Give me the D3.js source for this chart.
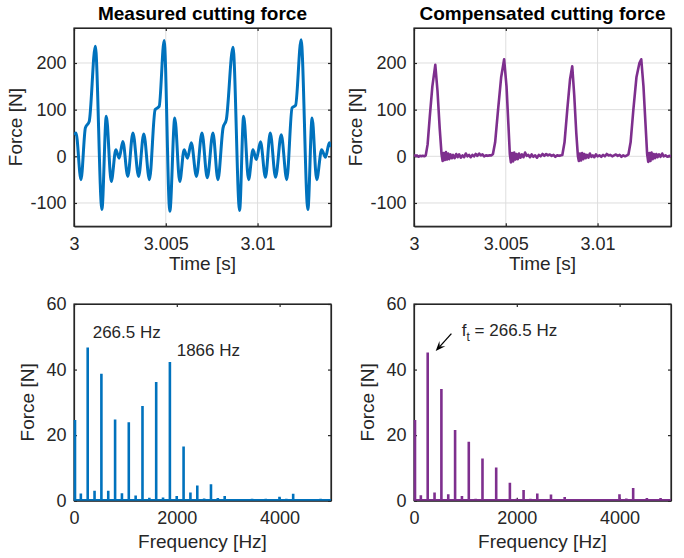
<!DOCTYPE html>
<html><head><meta charset="utf-8">
<script src="https://cdn.jsdelivr.net/npm/d3@7"></script>
<style>
body{margin:0;background:#fff;}
svg{display:block;font-family:"Liberation Sans",Arial,Helvetica,sans-serif;}
</style></head><body>
<svg id="fig" width="684" height="558"></svg>
<script>
// ---- time-domain force, time given in ms after t = 3 s ----
const measuredMs = [0.00,0.11,0.38,0.62,0.83,1.16,1.52,1.76,2.03,2.28,2.46,2.66,2.93,3.21,3.52,3.80,4.11,4.42,4.64,4.91,5.22,5.49,5.76,6.00,6.18,6.39,6.67,6.97,7.26,7.57,7.84,8.12,8.30,8.66,9.02,9.24,9.51,9.75,9.93,10.16,10.43,10.69,10.98,11.29,11.59,11.88,12.07,12.37,12.74,12.97,13.22,13.49,13.70,13.91,14.00];
const measuredN  = [46,50,-50,61,75,236,-114,86,-54,14,-4,32,-43,50,-43,48,-50,100,107,248,-118,82,-54,14,-4,29,-43,50,-46,50,-50,61,79,234,-116,86,-50,14,-7,31,-45,50,-45,46,-50,104,109,250,-114,82,-50,14,-2,29,20];

const compensatedMs = [0.00,0.08,0.16,0.24,0.32,0.40,0.48,0.56,0.64,0.74,0.86,1.00,1.16,1.28,1.40,1.50,1.56,1.62,1.68,1.74,1.80,1.86,1.92,1.99,2.06,2.13,2.21,2.30,2.38,2.46,2.55,2.64,2.73,2.82,2.91,3.00,3.09,3.18,3.27,3.36,3.45,3.55,3.64,3.73,3.82,3.92,4.02,4.12,4.22,4.30,4.42,4.58,4.75,4.91,5.04,5.14,5.22,5.28,5.34,5.40,5.46,5.52,5.58,5.65,5.72,5.80,5.88,5.96,6.05,6.14,6.23,6.32,6.41,6.50,6.60,6.70,6.80,6.90,7.00,7.10,7.20,7.30,7.40,7.50,7.60,7.70,7.80,7.90,8.00,8.08,8.20,8.35,8.50,8.62,8.73,8.84,8.93,8.98,9.04,9.10,9.16,9.22,9.28,9.35,9.42,9.50,9.58,9.66,9.74,9.82,9.91,10.00,10.10,10.20,10.30,10.40,10.50,10.60,10.70,10.80,10.90,11.00,11.10,11.20,11.30,11.40,11.50,11.60,11.68,11.80,11.95,12.12,12.28,12.38,12.50,12.61,12.70,12.76,12.82,12.88,12.94,13.00,13.06,13.13,13.20,13.27,13.35,13.43,13.52,13.60,13.70,13.80,13.90,14.00];
const compensatedN  = [3,1,2,-1,1,0,1,0,2,25,85,150,196,140,60,5,-10,7,-8,9,-7,6,-6,4,-4,3,-4,5,-2,4,-3,2,-2,6,0,3,-2,3,0,5,1,6,2,4,0,2,1,2,2,5,30,100,170,208,150,70,5,-13,7,-11,8,-7,5,-6,6,-3,4,-2,8,1,3,-2,4,-1,2,-3,3,0,5,1,5,2,4,1,3,-1,2,1,2,3,30,100,165,193,130,50,0,-10,6,-9,7,-6,5,-4,3,-3,6,-1,2,-2,4,0,2,-1,3,0,5,2,3,0,2,4,1,3,-1,2,0,2,4,30,100,170,200,208,150,70,5,-12,7,-10,8,-6,5,-4,5,-2,4,-1,6,0,2,-1,1,0];

// ---- amplitude spectra at the harmonics of 133.25 Hz ----
const harmonicHz = [0,133.25,266.5,399.75,533,666.25,799.5,932.75,1066,1199.25,1332.5,1465.75,1599,1732.25,1865.5,1998.75,2132,2265.25,2398.5,2531.75,2665,2798.25,2931.5,3064.75,3198,3331.25,3464.5,3597.75,3731,3864.25,3997.5,4130.75,4264,4397.25,4530.5,4663.75,4797,4930.25];
const measuredAmp    = [24.6,2.2,46.7,3.0,38.7,3.0,24.8,2.3,23.9,1.6,28.9,0.9,36.2,1.0,42.3,1.4,16.5,2.5,4.6,0.7,5.0,0.8,1.4,0.5,0.4,0.5,0.6,0.4,0.6,0.5,1.2,0.6,2.1,0.4,0.5,0.4,0.6,0.4];
const compensatedAmp = [24.6,1.7,45.2,2.5,34.1,2.0,21.6,1.4,18.0,0.6,12.9,0.3,10.1,0.3,5.5,0.6,3.3,0.6,2.2,0.3,1.9,0.3,1.1,0.3,0.3,0.3,0.5,0.3,0.5,0.4,2.0,0.7,3.9,0.3,0.8,0.3,0.8,0.3];
const spectrumFloor = 0.15;

// ---- axis ticks and labels ----
const timeTicks = [3, 3.005, 3.01];
const timeForceTicks = [-100, 0, 100, 200];
const freqTicks = [0, 2000, 4000];
const freqForceTicks = [0, 20, 40, 60];
const titles = ["Measured cutting force", "Compensated cutting force"];

const BLUE = "#0072BD", PURPLE = "#7E2F8E", AX = "#262626";
const svg = d3.select("#fig");
svg.append("rect").attr("width", 684).attr("height", 558).attr("fill", "#fff");

const cols = [{left: 74, right: 331}, {left: 414, right: 671}];
const topRow = {top: 28, bottom: 226.3};
const botRow = {top: 304, bottom: 500.7};

function makeAxes(col, row, xDomain, yDomain, xTicks, yTicks, xFmt, grid, xLabel, xLabelGap, yLabelGap, clipPad, id) {
  const x = d3.scaleLinear().domain(xDomain).range([col.left, col.right]);
  const y = d3.scaleLinear().domain(yDomain).range([row.bottom, row.top]);
  const g = svg.append("g");
  g.append("clipPath").attr("id", id).append("rect")
    .attr("x", col.left - clipPad).attr("y", row.top)
    .attr("width", col.right - col.left + clipPad).attr("height", row.bottom - row.top);
  if (grid) {
    g.selectAll(".gx").data(xTicks).join("line")
      .attr("x1", d => x(d)).attr("x2", d => x(d)).attr("y1", row.top).attr("y2", row.bottom)
      .attr("stroke", "#dedede").attr("stroke-width", 1);
    g.selectAll(".gy").data(yTicks).join("line")
      .attr("y1", d => y(d)).attr("y2", d => y(d)).attr("x1", col.left).attr("x2", col.right)
      .attr("stroke", "#dedede").attr("stroke-width", 1);
  }
  const frame = svg.append("g");
  // axes with ticks mirrored on all four sides
  frame.append("g").attr("transform", `translate(0,${row.bottom})`)
    .call(d3.axisBottom(x).tickValues(xTicks).tickSizeInner(-3).tickSizeOuter(0).tickPadding(10.5).tickFormat(xFmt));
  frame.append("g").attr("transform", `translate(0,${row.top})`)
    .call(d3.axisTop(x).tickValues(xTicks).tickSizeInner(-3).tickSizeOuter(0).tickFormat(""));
  frame.append("g").attr("transform", `translate(${col.left},0)`)
    .call(d3.axisLeft(y).tickValues(yTicks).tickSizeInner(-3).tickSizeOuter(0).tickPadding(7.5).tickFormat(d => String(d)));
  frame.append("g").attr("transform", `translate(${col.right},0)`)
    .call(d3.axisRight(y).tickValues(yTicks).tickSizeInner(-3).tickSizeOuter(0).tickFormat(""));
  frame.selectAll(".domain").attr("stroke", AX).attr("stroke-width", 1.2);
  frame.selectAll(".tick line").attr("stroke", AX).attr("stroke-width", 1.2);
  frame.selectAll(".tick text").attr("fill", AX).attr("font-size", 18)
    .attr("font-family", '"Liberation Sans",Arial,Helvetica,sans-serif');
  frame.append("rect").attr("x", col.left).attr("y", row.top)
    .attr("width", col.right - col.left).attr("height", row.bottom - row.top)
    .attr("fill", "none").attr("stroke", AX).attr("stroke-width", 1.2);
  const plot = svg.append("g").attr("clip-path", `url(#${id})`);
  const midX = (col.left + col.right) / 2;
  svg.append("text").attr("x", midX).attr("y", row.bottom + xLabelGap).attr("text-anchor", "middle")
    .attr("font-size", 19).attr("fill", AX).text(xLabel);
  svg.append("text").attr("transform", `translate(${col.left - yLabelGap},${(row.top + row.bottom) / 2}) rotate(-90)`)
    .attr("text-anchor", "middle").attr("font-size", 19).attr("fill", AX).text("Force [N]");
  return {x, y, plot};
}

const timeFmt = d => String(+d.toFixed(3));
const freqFmt = d => String(d);

// top row: time signals
const tl = makeAxes(cols[0], topRow, [3, 3.014], [-150, 275], timeTicks, timeForceTicks, timeFmt, true, "Time [s]", 43.5, 52, 0, "c1");
const tr = makeAxes(cols[1], topRow, [3, 3.014], [-150, 275], timeTicks, timeForceTicks, timeFmt, true, "Time [s]", 43.5, 52, 0, "c2");

const measured = measuredMs.map((m, i) => [3 + m / 1000, measuredN[i]]);
const compensated = compensatedMs.map((m, i) => [3 + m / 1000, compensatedN[i]]);

tl.plot.append("path").datum(measured)
  .attr("d", d3.line().x(d => tl.x(d[0])).y(d => tl.y(d[1])).curve(d3.curveMonotoneX))
  .attr("fill", "none").attr("stroke", BLUE).attr("stroke-width", 3).attr("stroke-linejoin", "round");
tr.plot.append("path").datum(compensated)
  .attr("d", d3.line().x(d => tr.x(d[0])).y(d => tr.y(d[1])))
  .attr("fill", "none").attr("stroke", PURPLE).attr("stroke-width", 2.6).attr("stroke-linejoin", "round");

// bottom row: spectra
const bl = makeAxes(cols[0], botRow, [0, 5000], [0, 60], freqTicks, freqForceTicks, freqFmt, false, "Frequency [Hz]", 47.5, 40, 3, "c3");
const br = makeAxes(cols[1], botRow, [0, 5000], [0, 60], freqTicks, freqForceTicks, freqFmt, false, "Frequency [Hz]", 47.5, 40, 3, "c4");

function spectrumPoints(amps) {
  const pts = [];
  harmonicHz.forEach((f, i) => {
    pts.push([f, spectrumFloor], [f, amps[i]], [f, spectrumFloor]);
  });
  pts.push([5000, spectrumFloor]);
  return pts;
}
bl.plot.append("path").datum(spectrumPoints(measuredAmp))
  .attr("d", d3.line().x(d => bl.x(d[0]) + (d[0] === 0 ? 1 : 0)).y(d => bl.y(d[1])))
  .attr("fill", "none").attr("stroke", BLUE).attr("stroke-width", 2.6).attr("stroke-linejoin", "miter");
br.plot.append("path").datum(spectrumPoints(compensatedAmp))
  .attr("d", d3.line().x(d => br.x(d[0]) + (d[0] === 0 ? 1 : 0)).y(d => br.y(d[1])))
  .attr("fill", "none").attr("stroke", PURPLE).attr("stroke-width", 2.6).attr("stroke-linejoin", "miter");

// titles
titles.forEach((t, i) => {
  svg.append("text").attr("x", (cols[i].left + cols[i].right) / 2).attr("y", 20)
    .attr("text-anchor", "middle").attr("font-size", 19).attr("font-weight", "bold")
    .attr("fill", "#000").text(t);
});

// annotations on the spectra
svg.append("text").attr("x", bl.x(364)).attr("y", bl.y(49.7)).attr("font-size", 17).attr("fill", AX)
  .text(`${harmonicHz[2]} Hz`);
svg.append("text").attr("x", bl.x(1998)).attr("y", bl.y(44.1)).attr("font-size", 17).attr("fill", AX)
  .text(`${Math.round(harmonicHz[14])} Hz`);

const ann = svg.append("text").attr("x", br.x(930)).attr("y", br.y(50.2)).attr("font-size", 17).attr("fill", AX);
ann.append("tspan").text("f");
ann.append("tspan").attr("font-size", 12).attr("dy", 5).text("t");
ann.append("tspan").attr("dy", -5).text(` = ${harmonicHz[2]} Hz`);

// arrow pointing at the tooth-passing peak
const tipX = br.x(harmonicHz[2]) + 8, tipY = br.y(compensatedAmp[2]) - 1.5;
const tailX = tipX + 15.7, tailY = tipY - 17.4;
const ang = Math.atan2(tipY - tailY, tipX - tailX);
svg.append("line").attr("x1", tailX).attr("y1", tailY)
  .attr("x2", tipX - 6 * Math.cos(ang)).attr("y2", tipY - 6 * Math.sin(ang))
  .attr("stroke", "#000").attr("stroke-width", 1.3);
const hl = 10, hw = 4;
const bx = tipX - hl * Math.cos(ang), by = tipY - hl * Math.sin(ang);
svg.append("path")
  .attr("d", `M${tipX},${tipY}L${bx + hw * Math.sin(ang)},${by - hw * Math.cos(ang)}L${tipX - 6 * Math.cos(ang)},${tipY - 6 * Math.sin(ang)}L${bx - hw * Math.sin(ang)},${by + hw * Math.cos(ang)}Z`)
  .attr("fill", "#000");
</script>
</body></html>
